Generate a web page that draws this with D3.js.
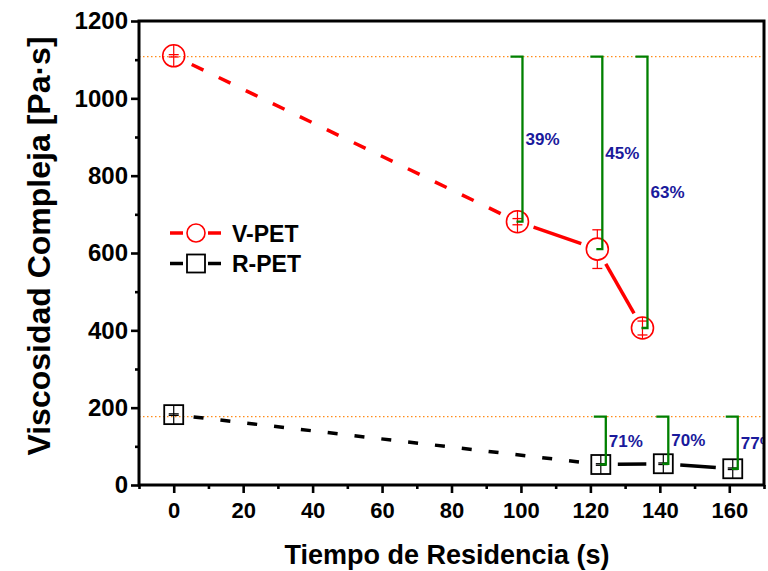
<!DOCTYPE html>
<html>
<head>
<meta charset="utf-8">
<script src="https://cdn.jsdelivr.net/npm/d3@7/dist/d3.min.js"></script>
<style>
  body { margin: 0; background: #fff; }
  svg { display: block; }
  text { font-family: "Liberation Sans", Arial, Helvetica, sans-serif; font-weight: bold; }
</style>
</head>
<body>
<svg id="chart" width="768" height="571"></svg>
<script>
// Residence time (s) and complex viscosity (Pa·s) for each material
const timeV = [0, 99, 122, 135];
const viscV = [1110, 681, 610, 406];
const errV  = [3, 8, 50, 18];

const timeR = [0, 123, 141, 161];
const viscR = [182, 53, 55, 42];
const errR  = [2, 2, 2, 2];

// Reference levels (initial viscosity) shown as dotted guides
const refLevels = [1108, 177];

const seriesNames = ["V-PET", "R-PET"];
const xTickValues = [0, 20, 40, 60, 80, 100, 120, 140, 160];
const yTickValues = [0, 200, 400, 600, 800, 1000, 1200];

const svg = d3.select("#chart");
const L = 139, R = 764, T = 21, B = 485;

const x = d3.scaleLinear().domain([-10, 170]).range([L, R]);
const y = d3.scaleLinear().domain([0, 1200]).range([B, T]);

svg.append("defs").append("clipPath").attr("id", "plotClip")
  .append("rect").attr("x", L).attr("y", T).attr("width", R - L).attr("height", B - T);

const series = [
  { name: seriesNames[0], t: timeV, v: viscV, e: errV, ref: refLevels[0], color: "#ff0000", shape: "circle", dash: "13,17" },
  { name: seriesNames[1], t: timeR, v: viscR, e: errR, ref: refLevels[1], color: "#000000", shape: "square", dash: "10,17" }
];

// dotted reference lines
svg.append("g").selectAll("line").data(refLevels).join("line")
  .attr("x1", L).attr("x2", R)
  .attr("y1", d => y(d)).attr("y2", d => y(d))
  .attr("stroke", "#ff8c1a").attr("stroke-width", 1.2)
  .attr("stroke-dasharray", "1.5,2.5");

const circleR = 11, squareH = 9.5;

series.forEach(s => {
  const pts = s.t.map((t, i) => ({ px: x(t), py: y(s.v[i]), err: s.e[i], val: s.v[i] }));
  const g = svg.append("g");

  // connecting segments, stopped short of each marker
  for (let i = 0; i < pts.length - 1; i++) {
    const a = pts[i], b = pts[i + 1];
    const dx = b.px - a.px, dy = b.py - a.py, len = Math.hypot(dx, dy);
    const ux = dx / len, uy = dy / len;
    const g0 = i === 0 ? 20 : 17, g1 = 17;
    g.append("line")
      .attr("x1", a.px + ux * g0).attr("y1", a.py + uy * g0)
      .attr("x2", b.px - ux * g1).attr("y2", b.py - uy * g1)
      .attr("stroke", s.color).attr("stroke-width", 3.5)
      .attr("stroke-dasharray", i === 0 ? s.dash : null);
  }

  // markers
  if (s.shape === "circle") {
    g.selectAll("circle").data(pts).join("circle")
      .attr("cx", d => d.px).attr("cy", d => d.py).attr("r", circleR)
      .attr("fill", "none").attr("stroke", s.color).attr("stroke-width", 1.6);
  } else {
    g.selectAll("rect").data(pts).join("rect")
      .attr("x", d => d.px - squareH).attr("y", d => d.py - squareH)
      .attr("width", squareH * 2).attr("height", squareH * 2)
      .attr("fill", "none").attr("stroke", s.color).attr("stroke-width", 1.8);
  }

  // error bars
  const half = s.shape === "circle" ? circleR : squareH;
  pts.forEach(p => {
    const top = y(p.val + p.err), bot = y(p.val - p.err);
    const ePx = p.py - top;
    if (ePx > half) {
      g.append("line").attr("x1", p.px).attr("x2", p.px).attr("y1", top).attr("y2", p.py - half)
        .attr("stroke", s.color).attr("stroke-width", 1.2);
      g.append("line").attr("x1", p.px).attr("x2", p.px).attr("y1", p.py + half).attr("y2", bot)
        .attr("stroke", s.color).attr("stroke-width", 1.2);
    } else {
      g.append("line").attr("x1", p.px).attr("x2", p.px).attr("y1", p.py - half).attr("y2", p.py + half)
        .attr("stroke", s.color).attr("stroke-width", 1.2);
    }
    [top, bot].forEach(cy => g.append("line")
      .attr("x1", p.px - 5).attr("x2", p.px + 5).attr("y1", cy).attr("y2", cy)
      .attr("stroke", s.color).attr("stroke-width", 1.3));
  });

  // reduction brackets with percentage relative to the initial value
  pts.slice(1).forEach(p => {
    const vx = p.px + 5, yt = y(s.ref), yb = p.py;
    g.append("path")
      .attr("d", `M${vx - 12},${yt}H${vx}V${yb}H${vx - 6}`)
      .attr("fill", "none").attr("stroke", "#008000").attr("stroke-width", 2.3);
    const pct = Math.round((1 - p.val / s.v[0]) * 100);
    g.append("text")
      .attr("clip-path", "url(#plotClip)")
      .attr("x", vx + 3).attr("y", (yt + yb) / 2 + 6)
      .attr("font-size", 17).attr("fill", "#1a1a9c")
      .text(pct + "%");
  });
});

// axes
const fmt = d3.format("d");
const yAxis = d3.axisLeft(y).tickValues(yTickValues).tickFormat(fmt).tickSize(8).tickPadding(3).tickSizeOuter(0);
const yMinor = d3.axisLeft(y).tickValues(d3.range(100, 1200, 200)).tickSize(4).tickFormat("").tickSizeOuter(0);
const xAxis = d3.axisBottom(x).tickValues(xTickValues).tickFormat(fmt).tickSize(8).tickPadding(9).tickSizeOuter(0);
const xMinor = d3.axisBottom(x).tickValues(d3.range(-10, 171, 20)).tickSize(4).tickFormat("").tickSizeOuter(0);

function styleAxis(g, fs) {
  g.select(".domain").remove();
  g.selectAll(".tick line").attr("stroke", "#000").attr("stroke-width", 2.6);
  g.selectAll(".tick text").attr("fill", "#000").attr("font-size", fs)
    .attr("font-family", "'Liberation Sans', Arial, sans-serif").attr("font-weight", "bold");
}

svg.append("g").attr("transform", `translate(${L},0)`).call(yAxis).call(g => styleAxis(g, 24));
svg.append("g").attr("transform", `translate(${L},0)`).call(yMinor).call(g => styleAxis(g, 0));
svg.append("g").attr("transform", `translate(0,${B})`).call(xAxis).call(g => styleAxis(g, 22));
svg.append("g").attr("transform", `translate(0,${B})`).call(xMinor).call(g => styleAxis(g, 0));

// frame
svg.append("rect").attr("x", L).attr("y", T).attr("width", R - L).attr("height", B - T)
  .attr("fill", "none").attr("stroke", "#000").attr("stroke-width", 3);

// axis titles
svg.append("text").attr("x", 447).attr("y", 564).attr("text-anchor", "middle")
  .attr("font-size", 27).attr("fill", "#000").text("Tiempo de Residencia (s)");
svg.append("text").attr("transform", `translate(50,246) rotate(-90)`).attr("text-anchor", "middle")
  .attr("font-size", 32).attr("fill", "#000").text("Viscosidad Compleja [Pa·s]");

// legend
const legend = svg.append("g");
series.forEach((s, i) => {
  const ly = 233 + i * 30.5, cx = 196;
  legend.append("line").attr("x1", 170).attr("x2", 183).attr("y1", ly).attr("y2", ly)
    .attr("stroke", s.color).attr("stroke-width", 3.5);
  legend.append("line").attr("x1", 208).attr("x2", 221).attr("y1", ly).attr("y2", ly)
    .attr("stroke", s.color).attr("stroke-width", 3.5);
  if (s.shape === "circle") {
    legend.append("circle").attr("cx", cx).attr("cy", ly).attr("r", 9)
      .attr("fill", "none").attr("stroke", s.color).attr("stroke-width", 1.6);
  } else {
    legend.append("rect").attr("x", cx - 9).attr("y", ly - 9).attr("width", 18).attr("height", 18)
      .attr("fill", "none").attr("stroke", s.color).attr("stroke-width", 1.8);
  }
  legend.append("text").attr("x", 232).attr("y", ly + 8.5).attr("font-size", 23)
    .attr("fill", "#000").text(s.name);
});
</script>
</body>
</html>
